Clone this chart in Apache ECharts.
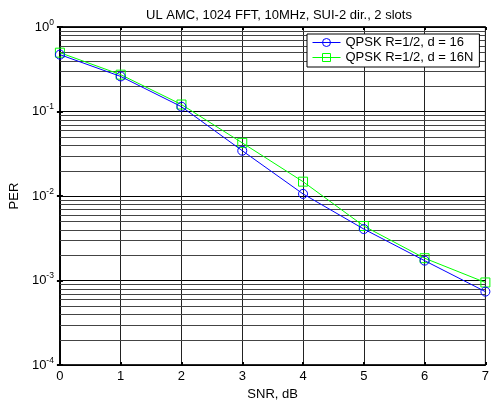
<!DOCTYPE html>
<html>
<head>
<meta charset="utf-8">
<script src="https://cdn.jsdelivr.net/npm/echarts@6/dist/echarts.min.js"></script>
<style>
html,body{margin:0;padding:0;background:#fff;}
#chart{width:492px;height:406px;}
</style>
</head>
<body>
<div id="chart"></div>
<script>
var snr = [0, 1, 2, 3, 4, 5, 6, 7];
var perD16 = [0.471, 0.26, 0.114, 0.0344, 0.0106, 0.00407, 0.00172, 0.00074];
var perD16N = [0.497, 0.273, 0.121, 0.0426, 0.0148, 0.00442, 0.00184, 0.00095];
var seriesNames = ['QPSK R=1/2, d = 16', 'QPSK R=1/2, d = 16N'];
var titleText = 'UL AMC, 1024 FFT, 10MHz, SUI-2 dir., 2 slots';
var xLabel = 'SNR, dB';
var yLabel = 'PER';

var FONT = 'Liberation Sans, Arial, Helvetica, sans-serif';
var minorVals = [];
for (var k = -4; k <= -1; k++) {
  for (var m = 2; m <= 9; m++) minorVals.push(m * Math.pow(10, k));
}

var chart = echarts.init(document.getElementById('chart'), null, {renderer: 'canvas'});
chart.setOption({
  backgroundColor: '#fff',
  animation: false,
  title: {
    text: titleText, left: 274, top: 4, textAlign: 'center',
    textStyle: {fontFamily: FONT, fontSize: 13, fontWeight: 'normal', color: '#000'}
  },
  legend: {
    left: 307, top: 34, orient: 'vertical',
    backgroundColor: '#fff', borderColor: '#000', borderWidth: 1,
    padding: [2, 6, 3, 5], itemGap: 2, itemWidth: 28, itemHeight: 10,
    lineStyle: {width: 1},
    itemStyle: {borderWidth: 1},
    textStyle: {fontFamily: FONT, fontSize: 13, color: '#000'},
    data: seriesNames
  },
  grid: {left: 58, right: 1, top: 27, bottom: 37, show: true, borderColor: '#000', borderWidth: 1},
  xAxis: [{
    type: 'value', min: 0, max: 7, interval: 1,
    name: xLabel, nameLocation: 'middle', nameGap: 22,
    nameTextStyle: {fontFamily: FONT, fontSize: 13, color: '#000'},
    axisLine: {show: true, lineStyle: {color: '#000', width: 1.5}},
    axisTick: {show: true, inside: true, length: 3, lineStyle: {color: '#000', width: 2}},
    axisLabel: {fontFamily: FONT, fontSize: 13, color: '#000', margin: 5},
    splitLine: {show: true, lineStyle: {color: '#222', width: 1}}
  }, {
    type: 'value', min: 0, max: 7, interval: 1, position: 'top',
    axisLine: {show: true, lineStyle: {color: '#000', width: 1.5}},
    axisTick: {show: true, inside: true, length: 3, lineStyle: {color: '#000', width: 2}},
    axisLabel: {show: false}, splitLine: {show: false}
  }],
  yAxis: [{
    type: 'log', logBase: 10, min: 1e-4, max: 1,
    name: yLabel, nameLocation: 'middle', nameGap: 34,
    nameTextStyle: {fontFamily: FONT, fontSize: 13, color: '#000'},
    axisLine: {show: true, lineStyle: {color: '#000', width: 1.5}},
    axisTick: {show: true, inside: true, length: 3, lineStyle: {color: '#000', width: 2}},
    axisLabel: {
      margin: 6,
      formatter: function (v) {
        var e = Math.round(Math.log(v) / Math.LN10);
        return '{b|10}{s|' + e + '}';
      },
      rich: {
        b: {fontFamily: FONT, fontSize: 13, color: '#000'},
        s: {fontFamily: FONT, fontSize: 8.5, color: '#000', padding: [0, 0, 9, 0]}
      }
    },
    splitLine: {show: true, lineStyle: {color: '#000', width: 1}}
  }, {
    type: 'log', logBase: 10, min: 1e-4, max: 1, position: 'right',
    axisLine: {show: true, lineStyle: {color: '#000', width: 1.5}},
    axisTick: {show: true, inside: true, length: 3, lineStyle: {color: '#000', width: 2}},
    axisLabel: {show: false}, splitLine: {show: false}
  }],
  series: [{
    type: 'custom', name: 'minorGrid', silent: true, z: 1,
    xAxisIndex: 0, yAxisIndex: 0,
    data: minorVals.map(function (v) { return [0, v]; }),
    clip: true,
    renderItem: function (params, api) {
      var v = api.value(1);
      var p0 = api.coord([0, v]);
      var p1 = api.coord([7, v]);
      var y = Math.round(p0[1]) + 0.5;
      return {
        type: 'line',
        shape: {x1: p0[0], y1: y, x2: p1[0], y2: y},
        style: {stroke: '#444', lineWidth: 1}
      };
    }
  }, {
    name: seriesNames[0], type: 'line',
    data: snr.map(function (x, i) { return [x, perD16[i]]; }),
    symbol: 'circle', symbolSize: 9, showAllSymbol: true,
    lineStyle: {color: '#0000ff', width: 1},
    itemStyle: {color: 'rgba(255,255,255,0)', borderColor: '#0000ff', borderWidth: 1},
    z: 4
  }, {
    name: seriesNames[1], type: 'line',
    data: snr.map(function (x, i) { return [x, perD16N[i]]; }),
    symbol: 'rect', symbolSize: 9, showAllSymbol: true,
    lineStyle: {color: '#00ff00', width: 1},
    itemStyle: {color: 'rgba(255,255,255,0)', borderColor: '#00ff00', borderWidth: 1},
    z: 3
  }]
});
</script>
</body>
</html>
